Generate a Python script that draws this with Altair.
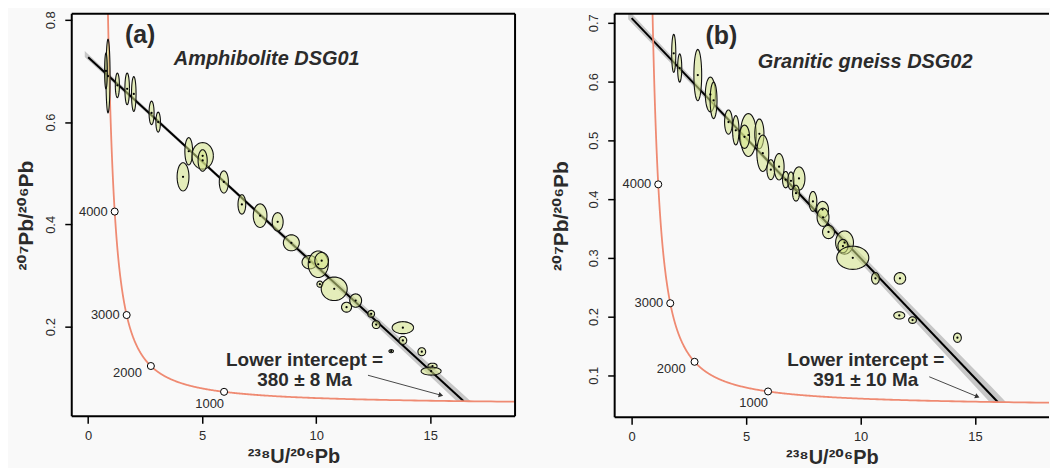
import math
import altair as alt
import pandas as pd

# ---------------- data ----------------
# decay constants (per Ma) and present 238U/235U
L238 = 1.55125e-4
L235 = 9.8485e-4
U_RATIO = 137.88

conc_ages = [1000, 2000, 3000, 4000]

# Panel (a) Amphibolite DSG01 : ellipse centres and semi-axes
a_cx = [0.87, 0.78, 1.28, 1.71, 2.00, 2.78, 3.07, 4.41, 5.02, 5.02, 4.16, 5.95, 6.74, 7.54, 8.31, 8.91,
        9.71, 10.09, 10.24, 10.16, 10.79, 11.73, 11.33, 12.41, 12.63, 13.80, 13.80, 13.29, 14.63, 15.10, 15.04]
a_cy = [0.690, 0.700, 0.672, 0.665, 0.655, 0.618, 0.600, 0.543, 0.534, 0.525, 0.493, 0.483, 0.439, 0.417, 0.405, 0.364,
        0.326, 0.322, 0.329, 0.283, 0.274, 0.251, 0.238, 0.225, 0.204, 0.198, 0.173, 0.152, 0.151, 0.123, 0.113]
a_rx = [0.09, 0.06, 0.09, 0.10, 0.10, 0.11, 0.10, 0.17, 0.47, 0.20, 0.26, 0.20, 0.17, 0.30, 0.24, 0.35,
        0.33, 0.44, 0.30, 0.13, 0.57, 0.26, 0.22, 0.15, 0.17, 0.47, 0.17, 0.10, 0.17, 0.20, 0.44]
a_ry = [0.072, 0.035, 0.024, 0.031, 0.034, 0.023, 0.0195, 0.0267, 0.026, 0.021, 0.0276, 0.0217, 0.019, 0.023, 0.018, 0.0156,
        0.013, 0.026, 0.016, 0.006, 0.023, 0.013, 0.0097, 0.0068, 0.0078, 0.0117, 0.0078, 0.003, 0.0078, 0.0055, 0.0078]
a_upper = 0.727      # 207Pb/206Pb common-Pb intercept
a_lower_age = 380    # Ma
a_band_x = [-0.15, 5.0, 10.0]
a_band_hw = [0.006, 0.003, 0.006]
a_band_end_hw = 0.0125

# Panel (b) Granitic gneiss DSG02
b_cx = [1.84, 2.10, 2.89, 3.44, 3.58, 4.23, 4.55, 5.10, 4.93, 5.58, 5.73, 6.08, 6.44, 6.73, 6.96, 7.31, 7.18,
        7.92, 8.34, 8.36, 8.60, 9.30, 9.23, 9.66, 10.65, 11.72, 11.69, 12.27, 14.23]
b_cy = [0.648, 0.623, 0.611, 0.578, 0.568, 0.531, 0.517, 0.509, 0.506, 0.511, 0.478, 0.450, 0.455, 0.433, 0.431, 0.435, 0.410,
        0.396, 0.382, 0.369, 0.344, 0.326, 0.320, 0.300, 0.265, 0.265, 0.202, 0.194, 0.164]
b_rx = [0.09, 0.09, 0.17, 0.22, 0.15, 0.17, 0.14, 0.35, 0.22, 0.20, 0.26, 0.17, 0.22, 0.14, 0.14, 0.26, 0.15,
        0.17, 0.26, 0.26, 0.26, 0.39, 0.22, 0.70, 0.17, 0.25, 0.24, 0.17, 0.17]
b_ry = [0.0324, 0.024, 0.0436, 0.0296, 0.031, 0.0206, 0.025, 0.0366, 0.0198, 0.0253, 0.031, 0.0169, 0.0225, 0.014, 0.015, 0.0198, 0.0135,
        0.0169, 0.014, 0.0155, 0.0113, 0.0197, 0.0113, 0.0197, 0.0098, 0.0098, 0.0062, 0.0056, 0.0079]
b_upper = 0.708
b_lower_age = 391
b_band_x = [-0.15, 5.0, 10.0]
b_band_hw = [0.008, 0.004, 0.008]
b_band_end_hw = 0.0145

A_XDOM = [-0.72, 18.72]
B_XDOM = [-0.74, 18.23]
A_YDOM = [0.0246, 0.8117]
B_YDOM = [0.0285, 0.7152]
A_YTICKS = [0.2, 0.4, 0.6, 0.8]
B_YTICKS = [0.1, 0.2, 0.3, 0.4, 0.5, 0.6, 0.7]
XTICKS = [0, 5, 10, 15]

FONT = "Liberation Sans, DejaVu Sans"
TXT = "#2b2b2b"
YTITLE = "\u00b2\u2070\u2077Pb/\u00b2\u2070\u2076Pb"
XTITLE = "\u00b2\u00b3\u2078U/\u00b2\u2070\u2076Pb"


def conc_x(t):
    return 1.0 / (math.exp(L238 * t) - 1.0)


def conc_y(t):
    return (math.exp(L235 * t) - 1.0) / (math.exp(L238 * t) - 1.0) / U_RATIO


X_EXPR = f"1/(exp({L238}*datum.t)-1)"
Y_EXPR = f"(exp({L235}*datum.t)-1)/(exp({L238}*datum.t)-1)/{U_RATIO}"


def make_panel(xdom, ydom, yticks, cx, cy, rx, ry, upper, lower_age, band_x, band_hw, band_end_hw,
               tag, tag_pos, sub, sub_pos, li_text, li_pos, arrow, arrow_angle, right_frame, ytitle_pad):
    xaxis = alt.Axis(values=XTICKS, title=XTITLE, domain=False, grid=False, tickSize=7, tickWidth=1.5,
                     tickColor="black", labelFontSize=13, labelColor=TXT, labelFont=FONT, labelPadding=6,
                     titleFontSize=20, titleFont=FONT, titleFontWeight="bold", titleColor=TXT, titlePadding=4)
    yaxis = alt.Axis(values=yticks, title=YTITLE, domain=False, grid=False, tickSize=7, tickWidth=1.5,
                     tickColor="black", labelFontSize=13, labelColor=TXT, labelFont=FONT, labelAngle=270,
                     labelAlign="center", labelBaseline="bottom", labelPadding=7, format=".1f",
                     titleFontSize=21, titleFont=FONT, titleFontWeight="bold", titleColor=TXT,
                     titlePadding=ytitle_pad)
    xs = alt.Scale(domain=xdom, nice=False, zero=False)
    ys = alt.Scale(domain=ydom, nice=False, zero=False)

    def X(field=None, datum=None):
        if datum is not None:
            return alt.X(datum=datum, type="quantitative", scale=xs, axis=xaxis)
        return alt.X(field, type="quantitative", scale=xs, axis=xaxis)

    def Y(field=None, datum=None):
        if datum is not None:
            return alt.Y(datum=datum, type="quantitative", scale=ys, axis=yaxis)
        return alt.Y(field, type="quantitative", scale=ys, axis=yaxis)

    # discordia line
    xi, yi = conc_x(lower_age), conc_y(lower_age)
    slope = (upper - yi) / xi
    disc = pd.DataFrame({"x": [0.0, xi], "y": [upper, yi]})

    # error envelope (clipped at concordia)
    bx, btop, bbot = [], [], []
    for x, hw in zip(band_x, band_hw):
        yl = upper - slope * x
        bx.append(x); btop.append(yl + hw); bbot.append(yl - hw)
    xa = xi - band_end_hw / slope
    xb = xi + band_end_hw / slope
    bx += [xa, xb]; btop += [yi + 2 * band_end_hw, yi]; bbot += [yi, yi]
    band = pd.DataFrame({"x": bx, "top": btop, "bot": bbot})

    band_l = alt.Chart(band).mark_area(color="#b5b5b5", opacity=0.75, clip=True).encode(
        x=X("x"), y=Y("top"), y2="bot")
    disc_l = alt.Chart(disc).mark_line(color="black", strokeWidth=2, clip=True).encode(x=X("x"), y=Y("y"))

    conc = alt.Chart(alt.sequence(300, 5300, 5, as_="t")).transform_calculate(
        cxv=X_EXPR, cyv=Y_EXPR).mark_line(color="#ef8a72", strokeWidth=1.8, clip=True).encode(
        x=X("cxv"), y=Y("cyv"), order="t:Q")

    ages = pd.DataFrame({"t": conc_ages})
    ages_base = alt.Chart(ages).transform_calculate(cxv=X_EXPR, cyv=Y_EXPR)
    age_pts = ages_base.mark_point(shape="circle", filled=True, fill="white", stroke="black",
                                   strokeWidth=1, size=50, opacity=1).encode(x=X("cxv"), y=Y("cyv"))
    lab_kw = dict(font=FONT, fontSize=13, color=TXT, align="right", baseline="middle")
    lab_hi = ages_base.transform_filter("datum.t >= 3000").mark_text(dx=-7, dy=0, **lab_kw).encode(
        x=X("cxv"), y=Y("cyv"), text="t:N")
    lab_2 = ages_base.transform_filter("datum.t == 2000").mark_text(dx=-9, dy=7, **lab_kw).encode(
        x=X("cxv"), y=Y("cyv"), text="t:N")
    lab_1 = ages_base.transform_filter("datum.t == 1000").mark_text(dx=0, dy=12, **lab_kw).encode(
        x=X("cxv"), y=Y("cyv"), text="t:N")

    ell = pd.DataFrame({"id": list(range(len(cx))), "cx": cx, "cy": cy, "rx": rx, "ry": ry})
    ell_l = alt.Chart(ell).transform_calculate(k="sequence(0, 49)").transform_flatten(["k"]).transform_calculate(
        ex="datum.cx + datum.rx*cos(datum.k*2*PI/48)",
        ey="datum.cy + datum.ry*sin(datum.k*2*PI/48)").mark_line(
        fill="#d3e487", fillOpacity=0.55, stroke="#111111", strokeWidth=1.1, clip=True).encode(
        x=X("ex"), y=Y("ey"), detail="id:N", order="k:Q")
    dots = alt.Chart(ell).mark_circle(color="black", size=5, opacity=1).encode(x=X("cx"), y=Y("cy"))

    def label(text, pos, size, weight="bold", style="normal"):
        return alt.Chart(pd.DataFrame({"s": [text]})).mark_text(
            font=FONT, fontSize=size, fontWeight=weight, fontStyle=style, color=TXT,
            align="center", baseline="middle").encode(x=X(datum=pos[0]), y=Y(datum=pos[1]), text="s:N")

    tag_l = label(tag, tag_pos, 25)
    sub_l = label(sub, sub_pos, 20, style="italic")
    li1 = label("Lower intercept =", li_pos[0], 19)
    li2 = label(li_text, li_pos[1], 19)

    arr = alt.Chart(pd.DataFrame({"s": [0]})).mark_rule(color="#333333", strokeWidth=0.9).encode(
        x=X(datum=arrow[0]), y=Y(datum=arrow[1]), x2=alt.X2(datum=arrow[2]), y2=alt.Y2(datum=arrow[3]))
    head = alt.Chart(pd.DataFrame({"s": [0]})).mark_point(
        shape="triangle-up", filled=True, color="#333333", size=28, angle=arrow_angle, opacity=1).encode(
        x=X(datum=arrow[2]), y=Y(datum=arrow[3]))

    # plot frame (box)
    fr = alt.Chart(pd.DataFrame({"s": [0]}))
    frame_kw = dict(color="black", strokeWidth=2)
    top = fr.mark_rule(**frame_kw).encode(x=alt.value(0), x2=alt.value("width"), y=alt.value(0))
    bottom = fr.mark_rule(**frame_kw).encode(x=alt.value(0), x2=alt.value("width"), y=alt.value("height"))
    left = fr.mark_rule(**frame_kw).encode(x=alt.value(0), y=alt.value(0), y2=alt.value("height"))
    layers = [band_l, disc_l, conc, ell_l, dots, age_pts, lab_hi, lab_2, lab_1,
              tag_l, sub_l, li1, li2, arr, head, top, bottom, left]
    if right_frame:
        layers.append(fr.mark_rule(**frame_kw).encode(x=alt.value("width"), y=alt.value(0),
                                                      y2=alt.value("height")))
    return alt.layer(*layers)


pa = make_panel(A_XDOM, A_YDOM, A_YTICKS, a_cx, a_cy, a_rx, a_ry, a_upper, a_lower_age, a_band_x, a_band_hw,
                a_band_end_hw, "(a)", (2.28, 0.771), "Amphibolite DSG01", (7.83, 0.724),
                "380 \u00b1 8 Ma", [(9.49, 0.134), (9.49, 0.0953)], (12.27, 0.1049, 15.47, 0.0659), 105,
                True, 8).properties(width=445, height=404)
pb = make_panel(B_XDOM, B_YDOM, B_YTICKS, b_cx, b_cy, b_rx, b_ry, b_upper, b_lower_age, b_band_x, b_band_hw,
                b_band_end_hw, "(b)", (3.92, 0.678), "Granitic gneiss DSG02", (10.2, 0.634),
                "391 \u00b1 10 Ma", [(10.23, 0.1257), (10.23, 0.0919)], (13.0, 0.0975, 15.1, 0.0637), 112,
                False, 16).properties(width=436, height=405)

chart = alt.hconcat(pa, pb, spacing=34).resolve_scale(x="independent", y="independent").properties(
    background="#f9f9f9", padding={"left": 8, "top": 1, "right": 0, "bottom": 0}
).configure_view(strokeWidth=0, fill="#f9f9f9")

chart.save("out.html", embed_options={"renderer": "svg", "actions": False})
